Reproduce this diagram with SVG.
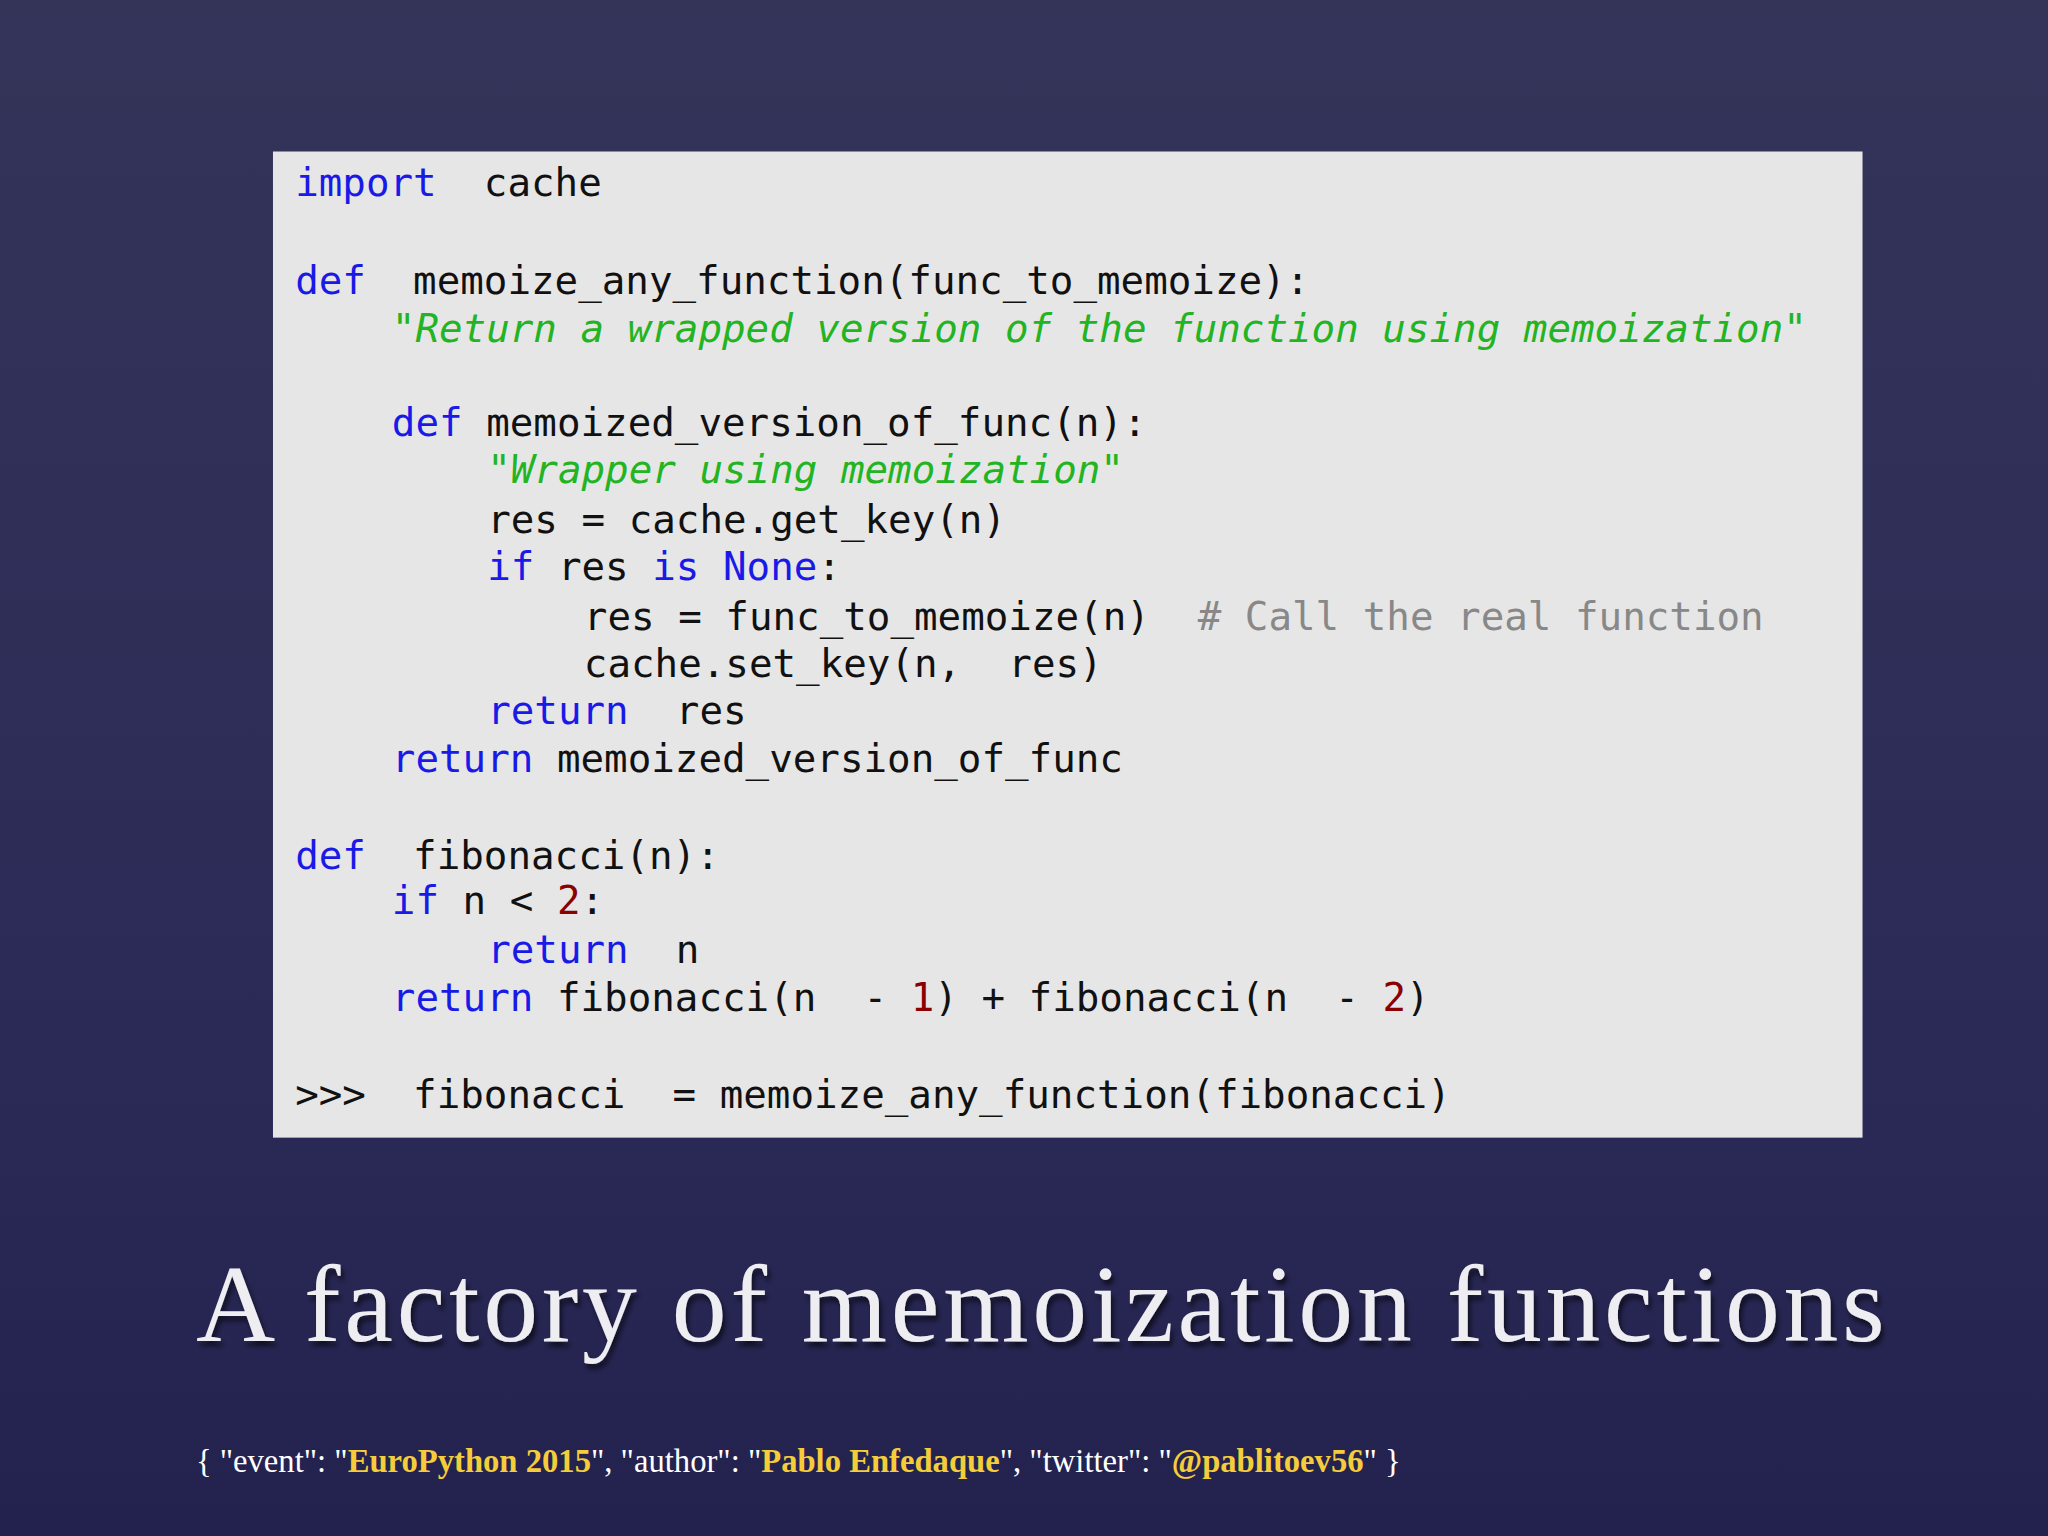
<svg xmlns="http://www.w3.org/2000/svg" width="2048" height="1536" viewBox="0 0 2048 1536">
<defs>
<linearGradient id="bg" x1="0" y1="0" x2="0" y2="1"><stop offset="0" stop-color="#343459"/><stop offset="0.7" stop-color="#2b2a57"/><stop offset="1" stop-color="#23224f"/></linearGradient>
<filter id="sh"><feDropShadow dx="2" dy="4" stdDeviation="2" flood-color="#000" flood-opacity="0.6"/></filter>
<style>
.c{font-family:"DejaVu Sans Mono",monospace;font-size:30px;fill:#111}
.k{fill:#1a1ae6}.s{fill:#22b422;font-style:italic}.n{fill:#8b0000}.g{fill:#888}
.t{font-family:"Liberation Serif","DejaVu Serif",serif;font-size:84px;fill:#eeeef2;filter:url(#sh)}
.f{font-family:"Liberation Serif",serif;font-size:25px;fill:#fff}.y{fill:#f5cd3a;font-weight:bold}
</style>
</defs>
<rect width="2048" height="1536" fill="url(#bg)"/>
<g transform="scale(1.30612)">
<g id="code">
<rect x="209" y="116" width="1217" height="755" fill="#e6e6e6"/>
<text class="c" x="226" y="150" xml:space="preserve"><tspan class="k">import</tspan>  cache</text>
<text class="c" x="226" y="225" xml:space="preserve"><tspan class="k">def</tspan>  memoize_any_function(func_to_memoize):</text>
<text class="c s" x="300" y="262" xml:space="preserve">"Return a wrapped version of the function using memoization"</text>
<text class="c" x="300" y="334" xml:space="preserve"><tspan class="k">def</tspan> memoized_version_of_func(n):</text>
<text class="c s" x="373" y="370" xml:space="preserve">"Wrapper using memoization"</text>
<text class="c" x="373" y="408" xml:space="preserve">res = cache.get_key(n)</text>
<text class="c" x="373" y="444" xml:space="preserve"><tspan class="k">if</tspan> res <tspan class="k">is</tspan> <tspan class="k">None</tspan>:</text>
<text class="c" x="447" y="482" xml:space="preserve">res = func_to_memoize(n)<tspan class="g" x="917"># Call the real function</tspan></text>
<text class="c" x="447" y="518" xml:space="preserve">cache.set_key(n,  res)</text>
<text class="c" x="373" y="554" xml:space="preserve"><tspan class="k">return</tspan>  res</text>
<text class="c" x="300" y="591" xml:space="preserve"><tspan class="k">return</tspan> memoized_version_of_func</text>
<text class="c" x="226" y="665" xml:space="preserve"><tspan class="k">def</tspan>  fibonacci(n):</text>
<text class="c" x="300" y="700" xml:space="preserve"><tspan class="k">if</tspan> n &lt; <tspan class="n">2</tspan>:</text>
<text class="c" x="373" y="737" xml:space="preserve"><tspan class="k">return</tspan>  n</text>
<text class="c" x="300" y="774" xml:space="preserve"><tspan class="k">return</tspan> fibonacci(n  - <tspan class="n">1</tspan>) + fibonacci(n  - <tspan class="n">2</tspan>)</text>
<text class="c" x="226" y="848" xml:space="preserve">&gt;&gt;&gt;  fibonacci  = memoize_any_function(fibonacci)</text>
</g>
<g id="title"><text class="t" x="150" y="1027" textLength="1293">A factory of memoization functions</text></g>
<g id="footer"><text class="f" x="150" y="1127" xml:space="preserve">{ "event": "<tspan class="y">EuroPython 2015</tspan>", "author": "<tspan class="y">Pablo Enfedaque</tspan>", "twitter": "<tspan class="y">@pablitoev56</tspan>" }</text></g>
</g>
</svg>
